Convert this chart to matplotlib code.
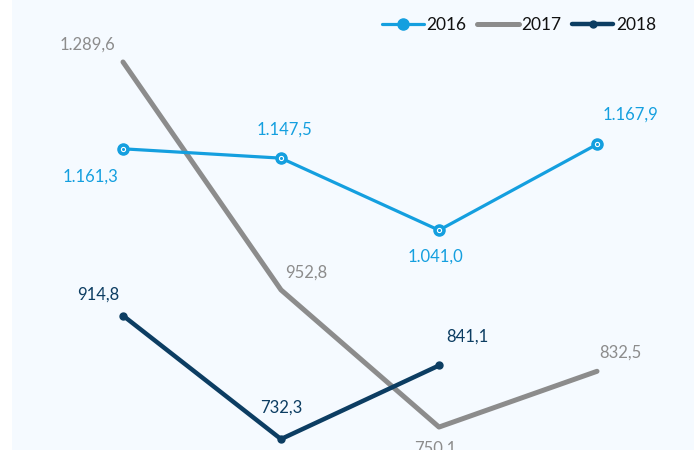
import numpy as np
import matplotlib.pyplot as plt

# data (x categories are not labelled in the picture)
periods = ['Q1', 'Q2', 'Q3', 'Q4']
v2016 = [1161.3, 1147.5, 1041.0, 1167.9]
v2017 = [1289.6, 952.8, 750.1, 832.5]
v2018 = [914.8, 732.3, 841.1]

c16 = '#149fdf'
c17 = '#8c8c8c'
c18 = '#0c3d62'

plt.rcParams['font.family'] = ['Lato', 'DejaVu Sans']

fig = plt.figure(figsize=(7, 4.5), dpi=100)
ax = fig.add_axes([12 / 700, 0, 682 / 700, 1])
ax.set_facecolor('#f5faff')

x = np.arange(len(periods))
ax.plot(x, v2016, color=c16, lw=2.3, marker='o', ms=8, mfc=c16, mec=c16,
        label='2016', solid_capstyle='round', zorder=3)
ax.plot(x, v2016, ls='none', marker='o', ms=3, mfc='none', mec='white',
        mew=0.8, zorder=4)
ax.plot(x, v2017, color=c17, lw=3.6, label='2017', solid_capstyle='round',
        zorder=2)
ax.plot(x[:len(v2018)], v2018, color=c18, lw=3.2, marker='o', ms=5,
        label='2018', solid_capstyle='round', zorder=3)

# value labels (comma decimal, dot thousands)
def fmt(v):
    s = f'{v:,.1f}'
    return s.replace(',', 'X').replace('.', ',').replace('X', '.')

off16 = [(-33, -28), (3, 29), (-4, -26), (33, 30)]
off17 = [(-36, 17), (25, 17), (-4, -22), (23, 19)]
off18 = [(-25, 21), (0, 31), (28, 29)]

for vals, offs, col in [(v2016, off16, c16), (v2017, off17, c17),
                        (v2018, off18, c18)]:
    for i, (v, o) in enumerate(zip(vals, offs)):
        ax.annotate(fmt(v), (x[i], v), xytext=o, textcoords='offset pixels',
                    ha='center', va='center', fontsize=12, color=col,
                    annotation_clip=False)

ax.set_xlim((12 - 123) / 158, (694 - 123) / 158)
ax.set_ylim(716.2, 1381.2)
for s in ax.spines.values():
    s.set_visible(False)
ax.set_xticks([])
ax.set_yticks([])

ax.legend(loc='upper right', bbox_to_anchor=(0.97, 1.0), ncol=3, frameon=False,
          fontsize=12.5, handlelength=2.4, handletextpad=0.15,
          columnspacing=0.6, borderaxespad=0.6, labelcolor='#111111')

fig.savefig('out.png', dpi=100)
